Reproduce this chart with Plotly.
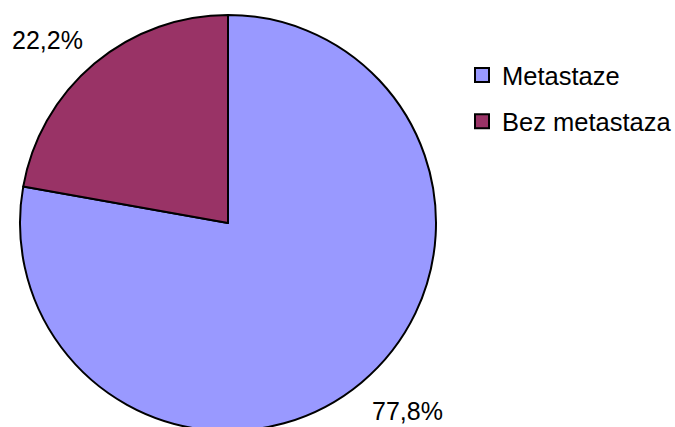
import plotly.graph_objects as go

labels = ["Metastaze", "Bez metastaza"]
values = [77.8, 22.2]
colors = ["#9999FF", "#993366"]
pct_labels = [f"{v:.1f}%".replace(".", ",") for v in values]

W, H = 675, 440  # a bit taller than the 427 window: the pie bottom is cut, as in the original

fig = go.Figure()
fig.add_trace(go.Pie(
    labels=labels,
    values=values,
    sort=False,
    direction="clockwise",
    rotation=0,
    marker=dict(colors=colors, line=dict(color="black", width=2)),
    textinfo="none",
    hoverinfo="label+percent",
    showlegend=False,
    domain=dict(x=[20/W, 436/W], y=[(H-431)/H, (H-15)/H]),
))

# legend entries (one per category) with controllable spacing
for lab, col in zip(labels, colors):
    fig.add_trace(go.Scatter(
        x=[None], y=[None], mode="markers", name=lab,
        legendgroup=lab, showlegend=True, hoverinfo="skip",
        marker=dict(symbol="square", size=14, color=col,
                    line=dict(color="black", width=2)),
    ))

# percentage labels placed like the original (Excel-style outside labels)
fig.add_annotation(x=47/W, y=1-40/H, xref="paper", yref="paper",
                   xanchor="center", yanchor="middle",
                   text=pct_labels[1], showarrow=False,
                   font=dict(size=25, color="black"))
fig.add_annotation(x=407/W, y=1-411/H, xref="paper", yref="paper",
                   xanchor="center", yanchor="middle",
                   text=pct_labels[0], showarrow=False,
                   font=dict(size=25, color="black"))

fig.update_layout(
    width=W, height=H,
    margin=dict(l=0, r=0, t=0, b=0, autoexpand=False),
    paper_bgcolor="white",
    plot_bgcolor="white",
    font=dict(family="Liberation Sans, Arial, sans-serif", size=25.5, color="black"),
    showlegend=True,
    xaxis=dict(visible=False),
    yaxis=dict(visible=False),
    legend=dict(x=462/W, y=1-52/H, xanchor="left", yanchor="top",
                font=dict(size=25.5), bgcolor="rgba(0,0,0,0)",
                tracegroupgap=10, itemsizing="trace"),
)

fig.write_html(
    "out.html",
    config={"displayModeBar": False},
    post_script="document.body.style.margin='0';document.body.style.overflow='hidden';",
)
